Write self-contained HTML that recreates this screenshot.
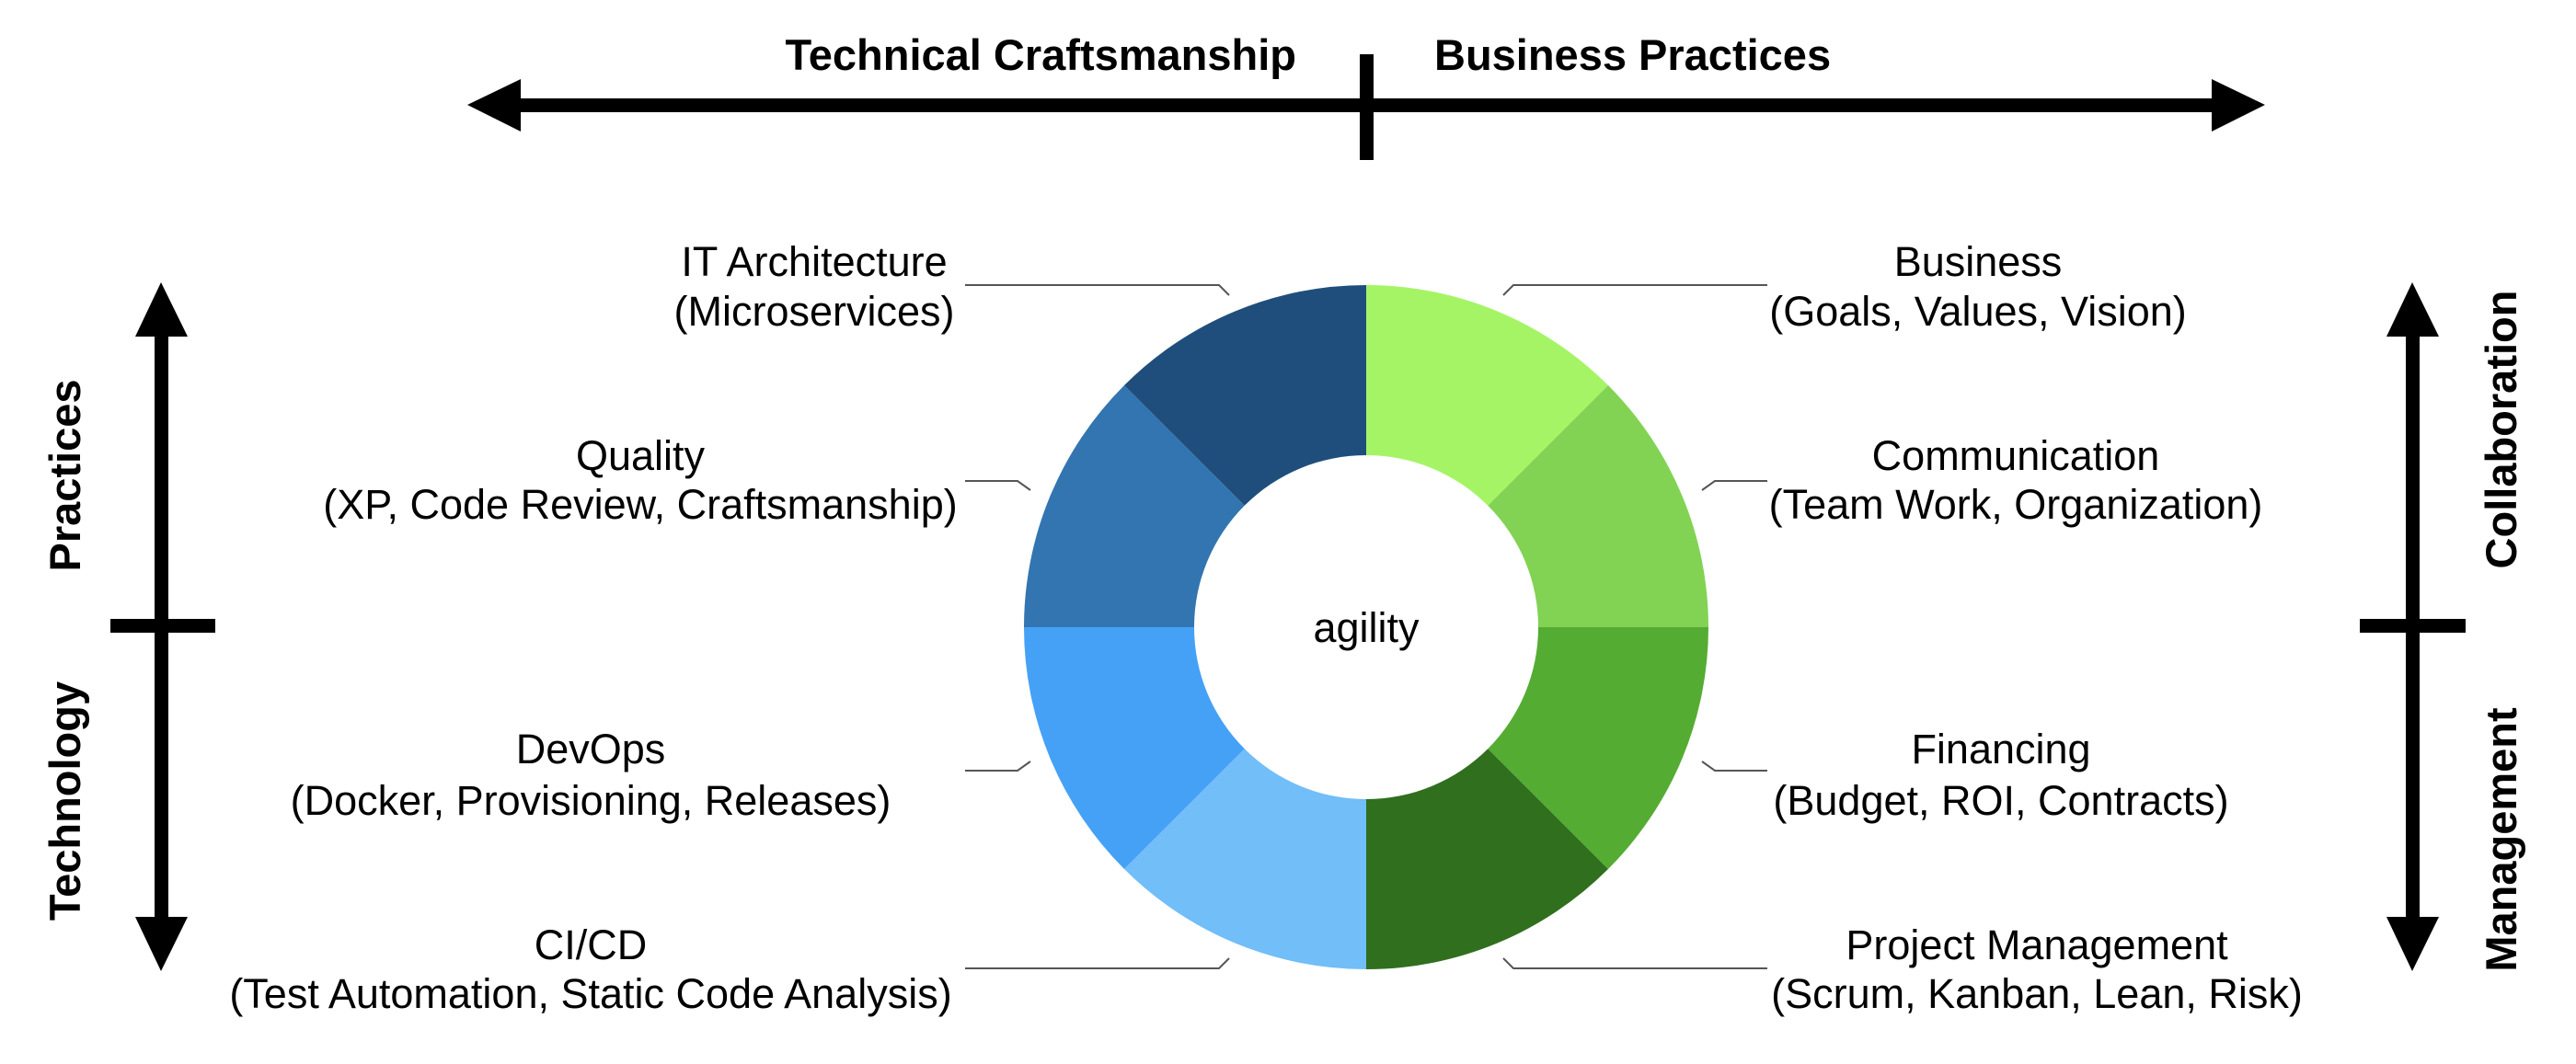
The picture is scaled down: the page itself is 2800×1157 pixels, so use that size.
<!DOCTYPE html>
<html><head><meta charset="utf-8"><style>html,body{margin:0;padding:0;background:#fff}svg{display:block}</style></head>
<body>
<svg width="2800" height="1157" viewBox="0 0 2800 1157" xmlns="http://www.w3.org/2000/svg" font-family="'Liberation Sans', sans-serif">
<rect width="2800" height="1157" fill="#fff"/>
<!-- top arrow -->
<rect x="560" y="107" width="1850" height="15" fill="#000"/>
<polygon points="508,114 566,86 566,143" fill="#000"/>
<polygon points="2462,114 2404,86 2404,143" fill="#000"/>
<rect x="1478" y="59" width="15" height="115" fill="#000"/>
<text x="1409" y="76" font-size="47" font-weight="bold" text-anchor="end">Technical Craftsmanship</text>
<text x="1559" y="76" font-size="47" font-weight="bold">Business Practices</text>
<!-- left vertical -->
<rect x="168" y="360" width="15" height="645" fill="#000"/>
<polygon points="175,307 147,366 204,366" fill="#000"/>
<polygon points="175,1056 147,997 204,997" fill="#000"/>
<rect x="120" y="673" width="114" height="15" fill="#000"/>
<text transform="translate(87,517) rotate(-90)" font-size="47" font-weight="bold" text-anchor="middle">Practices</text>
<text transform="translate(87,871) rotate(-90)" font-size="47" font-weight="bold" text-anchor="middle">Technology</text>
<!-- right vertical -->
<rect x="2615" y="360" width="15" height="645" fill="#000"/>
<polygon points="2622,307 2594,366 2651,366" fill="#000"/>
<polygon points="2622,1056 2594,997 2651,997" fill="#000"/>
<rect x="2565" y="673" width="115" height="15" fill="#000"/>
<text transform="translate(2735,467) rotate(-90)" font-size="47" font-weight="bold" text-anchor="middle">Collaboration</text>
<text transform="translate(2735,913) rotate(-90)" font-size="47" font-weight="bold" text-anchor="middle">Management</text>
<!-- ring -->
<g transform="translate(1485,682)">
<path d="M0,-372 A372,372 0 0 1 263,-263 L0,0Z" fill="#A5F466"/>
<path d="M263,-263 A372,372 0 0 1 372,0 L0,0Z" fill="#82D353"/>
<path d="M372,0 A372,372 0 0 1 263,263 L0,0Z" fill="#55AC33"/>
<path d="M263,263 A372,372 0 0 1 0,372 L0,0Z" fill="#306F1E"/>
<path d="M0,372 A372,372 0 0 1 -263,263 L0,0Z" fill="#71BEF8"/>
<path d="M-263,263 A372,372 0 0 1 -372,0 L0,0Z" fill="#45A1F6"/>
<path d="M-372,0 A372,372 0 0 1 -263,-263 L0,0Z" fill="#3275B1"/>
<path d="M-263,-263 A372,372 0 0 1 0,-372 L0,0Z" fill="#1F4E7C"/>
<circle r="187" fill="#fff"/>
<text y="16" font-size="45" text-anchor="middle">agility</text>
</g>
<!-- connectors -->
<g stroke="#555" stroke-width="2" fill="none">
<polyline points="1049,310 1325,310 1336,321"/>
<polyline points="1049,523 1106,523 1120,533"/>
<polyline points="1049,838 1106,838 1120,828"/>
<polyline points="1049,1053 1325,1053 1336,1042"/>
<polyline points="1921,310 1645,310 1634,321"/>
<polyline points="1921,523 1864,523 1850,533"/>
<polyline points="1921,838 1864,838 1850,828"/>
<polyline points="1921,1053 1645,1053 1634,1042"/>
</g>
<g font-size="45" text-anchor="middle">
<text x="885" y="300">IT Architecture</text>
<text x="885" y="354">(Microservices)</text>
<text x="696" y="511">Quality</text>
<text x="696" y="564">(XP, Code Review, Craftsmanship)</text>
<text x="642" y="830">DevOps</text>
<text x="642" y="886">(Docker, Provisioning, Releases)</text>
<text x="642" y="1043">CI/CD</text>
<text x="642" y="1096">(Test Automation, Static Code Analysis)</text>
<text x="2150" y="300">Business</text>
<text x="2150" y="354">(Goals, Values, Vision)</text>
<text x="2191" y="511">Communication</text>
<text x="2191" y="564">(Team Work, Organization)</text>
<text x="2175" y="830">Financing</text>
<text x="2175" y="886">(Budget, ROI, Contracts)</text>
<text x="2214" y="1043">Project Management</text>
<text x="2214" y="1096">(Scrum, Kanban, Lean, Risk)</text>
</g>
</svg>
</body></html>
